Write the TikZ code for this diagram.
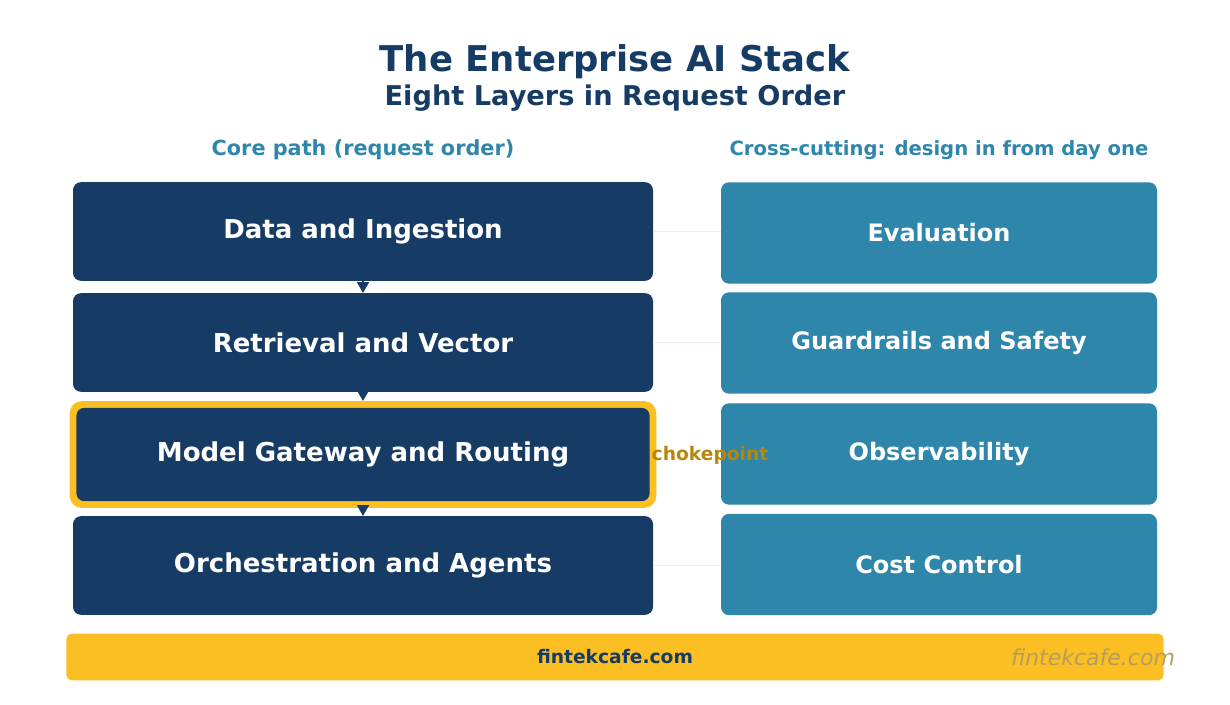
\documentclass[tikz,border=0pt]{standalone}
\usepackage{fontspec}
\setmainfont{DejaVu Sans}
\usetikzlibrary{arrows.meta, positioning}
\definecolor{navy}{HTML}{163B64}
\definecolor{teal}{HTML}{2E86AB}
\definecolor{gold}{HTML}{FBBF24}
\definecolor{ochre}{HTML}{B8860B}
\begin{document}
\begin{tikzpicture}[
    x=0.75pt, y=-0.75pt,
    font=\bfseries,
    core/.style={fill=navy, rounded corners=6pt, text=white, minimum width=435pt, minimum height=74pt, font=\bfseries\fontsize{19.5}{23}\selectfont},
    cross/.style={fill=teal, rounded corners=6pt, text=white, minimum width=327pt, minimum height=76pt, font=\bfseries\fontsize{18}{21}\selectfont},
    link/.style={draw=blue!8, thin},
    flow/.style={-{Triangle[length=8pt, width=9pt]}, navy, line width=1pt}
]
    \useasboundingbox (0,0) rectangle (1230,704);

    % Titles
    \node[text=navy, font=\bfseries\fontsize{26.6}{31}\selectfont] (title) at (615,62) {The Enterprise AI Stack};
    \node[text=navy, font=\bfseries\fontsize{20.4}{24}\selectfont] (subtitle) at (615,98) {Eight Layers in Request Order};
    \node[text=teal, font=\bfseries\fontsize{15.6}{18}\selectfont] (corehead) at (363,150) {Core path (request order)};
    \node[text=teal, font=\bfseries\fontsize{14.7}{17}\selectfont] (crosshead) at (939,150) {Cross-cutting: design in from day one};

    % Core path
    \node[core] (data) at (363,231.5) {Data and Ingestion};
    \node[core] (retrieval) at (363,342.5) {Retrieval and Vector};
    \node[fill=gold, rounded corners=9pt, minimum width=440pt, minimum height=80pt] (hl) at (363,454.5) {};
    \node[core, minimum width=430pt, minimum height=70pt] (gateway) at (363,454.5) {Model Gateway and Routing};
    \node[core] (orch) at (363,565.5) {Orchestration and Agents};

    % Cross-cutting
    \node[cross] (eval) at (939,233) {Evaluation};
    \node[cross] (guard) at (939,343) {Guardrails and Safety};
    \node[cross] (obs) at (939,454) {Observability};
    \node[cross] (cost) at (939,564.5) {Cost Control};

    % Links
    \draw[link] (data.east) -- (eval.west |- data.east);
    \draw[link] (retrieval.east) -- (guard.west |- retrieval.east);
    \draw[link] (orch.east) -- (cost.west |- orch.east);
    \node[text=ochre, font=\bfseries\fontsize{14}{17}\selectfont] (choke) at (710,455) {chokepoint};

    % Flow
    \draw[flow] (data.south) -- (retrieval.north);
    \draw[flow] (retrieval.south) -- (hl.north);
    \draw[flow] (hl.south) -- (orch.north);

    % Footer
    \node[fill=gold, rounded corners=4pt, minimum width=823pt, minimum height=35pt, text=navy, font=\bfseries\fontsize{14}{17}\selectfont] (footer) at (615,657) {fintekcafe.com};
    \node[text=black!40!gold!70, font=\mdseries\itshape\fontsize{16.5}{20}\selectfont] (mark) at (1093,657) {fintekcafe.com};
\end{tikzpicture}
\end{document}
